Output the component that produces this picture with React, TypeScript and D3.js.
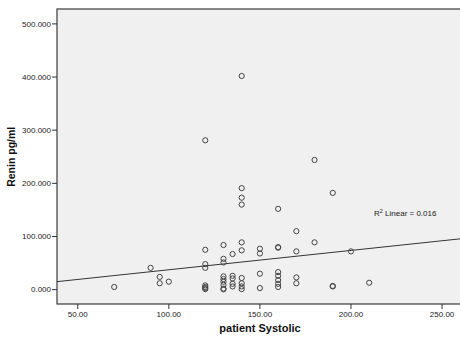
import React from "react";
import * as d3 from "d3";

// patient Systolic (x) and Renin pg/ml (y)
const systolic = [
  70,
  90,
  95, 95,
  100,
  120, 120, 120, 120, 120, 120, 120, 120,
  130, 130, 130, 130, 130, 130, 130, 130, 130,
  135, 135, 135, 135, 135,
  140, 140, 140, 140, 140, 140, 140, 140, 140, 140,
  150, 150, 150, 150,
  160, 160, 160, 160, 160, 160, 160, 160,
  170, 170, 170, 170,
  180, 180,
  190, 190, 190,
  200,
  210,
];
const renin = [
  5,
  41,
  24, 12,
  15,
  281, 75, 48, 41, 8, 5, 3, 1,
  84, 58, 51, 25, 20, 15, 9, 2, 0.5,
  67, 26, 21, 11, 6,
  402, 191, 173, 160, 89, 74, 22, 12, 6, 1,
  77, 68, 30, 3,
  152, 80, 79, 33, 26, 18, 11, 5,
  110, 72, 23, 12,
  244, 89,
  182, 7, 6,
  72,
  13,
];

const xTicks = [50, 100, 150, 200, 250];
const yTicks = [0, 100, 200, 300, 400, 500];
const fitIntercept = 1.0;
const fitSlope = 0.364;
const r2Text = "0.016";

const W = 460;
const H = 339;
const left = 57;
const right = 461;
const top = 9;
const bottom = 304;

export default function App() {
  const x = d3.scaleLinear().domain([38.6, 260.4]).range([left, right]);
  const y = d3.scaleLinear().domain([-27, 528]).range([bottom, top]);
  const fmtY = d3.format(".3f");
  const fmtX = d3.format(".2f");
  const [x0, x1] = x.domain();
  const line = d3
    .line<number>()
    .x((d) => x(d))
    .y((d) => y(fitIntercept + fitSlope * d));
  const font = "Arial, 'Liberation Sans', sans-serif";

  return (
    <svg
      width={W}
      height={H}
      style={{ position: "absolute", left: 0, top: 0, display: "block" }}
      fontFamily={font}
    >
      <rect x={0} y={0} width={W} height={H} fill="#ffffff" />
      <rect
        x={left}
        y={top}
        width={right - left}
        height={bottom - top}
        fill="#f0f0f0"
        stroke="#3a3a3a"
        strokeWidth={1.2}
      />
      {/* y ticks */}
      {yTicks.map((t) => (
        <g key={"y" + t}>
          <line x1={left - 5} x2={left} y1={y(t)} y2={y(t)} stroke="#333" strokeWidth={1} />
          <text
            x={left - 6}
            y={y(t)}
            dy="0.34em"
            textAnchor="end"
            fontSize={8}
            fill="#222"
          >
            {fmtY(t)}
          </text>
        </g>
      ))}
      {/* x ticks */}
      {xTicks.map((t) => (
        <g key={"x" + t}>
          <line x1={x(t)} x2={x(t)} y1={bottom} y2={bottom + 5} stroke="#333" strokeWidth={1} />
          <text x={x(t)} y={bottom + 13} textAnchor="middle" fontSize={8} fill="#222">
            {fmtX(t)}
          </text>
        </g>
      ))}
      {/* fit line */}
      <clipPath id="plotclip">
        <rect x={left} y={top} width={right - left} height={bottom - top} />
      </clipPath>
      <path
        d={line([x0, x1]) || ""}
        fill="none"
        stroke="#333"
        strokeWidth={1}
        clipPath="url(#plotclip)"
      />
      {/* points */}
      {systolic.map((s, i) => (
        <circle
          key={i}
          cx={x(s)}
          cy={y(renin[i])}
          r={2.6}
          fill="none"
          stroke="#444"
          strokeWidth={1}
        />
      ))}
      {/* R2 label */}
      <text x={374} y={216} fontSize={8} fill="#222">
        R<tspan fontSize={5.5} dy={-3}>2</tspan>
        <tspan dy={3}> Linear = {r2Text}</tspan>
      </text>
      {/* axis titles */}
      <text
        x={(left + right) / 2 + 1}
        y={332}
        textAnchor="middle"
        fontSize={11}
        fontWeight="bold"
        fill="#111"
      >
        patient Systolic
      </text>
      <text
        transform={`translate(15, ${y(250) + 0}) rotate(-90)`}
        textAnchor="middle"
        fontSize={10.5}
        fontWeight="bold"
        fill="#111"
      >
        Renin pg/ml
      </text>
    </svg>
  );
}
